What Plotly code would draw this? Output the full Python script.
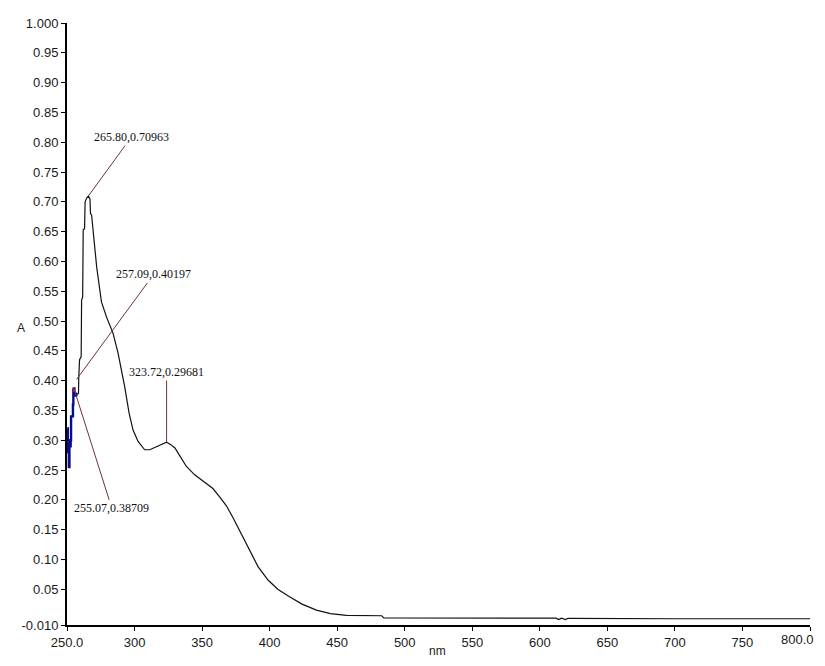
import plotly.graph_objects as go

# Blue (noisy) start of the spectrum
wl_start = [250.3, 250.6, 251.0, 251.4, 251.8, 252.2, 252.7, 253.0, 253.4, 254.0, 254.4, 254.7, 255.07, 255.5, 256.0, 256.5, 257.0]
abs_start = [0.32, 0.28, 0.30, 0.255, 0.29, 0.29, 0.30, 0.34, 0.34, 0.34, 0.36, 0.385, 0.387, 0.375, 0.378, 0.376, 0.378]

# Red marker piece at the 255.07 peak
wl_mark = [254.7, 255.07, 255.4]
abs_mark = [0.383, 0.387, 0.381]

# Main (black) spectrum
wl_main = [257.0, 258.5, 258.7, 259.3, 260.5, 260.8, 261.6, 262.0, 263.0, 263.4, 264.5, 265.8, 267.0, 267.4, 268.2,
           269.5, 272.0, 275.5, 279.2, 284.0, 287.8, 292.7, 296.0, 298.9, 302.6, 307.5, 311.2, 316.2, 320.0,
           323.72, 326.5, 329.9, 334.0, 338.4, 344.5, 351.0, 358.0, 363.0, 368.0, 372.9, 377.0, 381.5, 385.2,
           391.4, 398.8, 406.0, 414.7, 424.0, 434.6, 445.0, 456.8, 470.0, 483.0, 484.5, 540.0, 612.0, 614.0,
           616.0, 619.0, 621.0, 700.0, 800.0]
abs_main = [0.378, 0.378, 0.405, 0.435, 0.44, 0.535, 0.54, 0.653, 0.655, 0.70, 0.706, 0.70963, 0.705, 0.68, 0.678,
            0.648, 0.59, 0.532, 0.507, 0.48, 0.446, 0.39, 0.345, 0.317, 0.298, 0.284, 0.284, 0.289, 0.293,
            0.29681, 0.293, 0.287, 0.272, 0.256, 0.242, 0.231, 0.219, 0.205, 0.19, 0.17, 0.152, 0.133, 0.116,
            0.088, 0.0655, 0.05, 0.0375, 0.025, 0.015, 0.009, 0.006, 0.0055, 0.0055, 0.002, 0.002, 0.0015, -0.001,
            0.0015, -0.001, 0.0012, 0.0005, 0.0005]

# Peak labels: (wavelength, absorbance, text offset x px, text offset y px)
peak_wl = [265.80, 257.09, 323.72, 255.07]
peak_abs = [0.70963, 0.40197, 0.29681, 0.38709]
peak_ax = [43, 77, 0, 38]
peak_ay = [-59, -105, -70, 120]

x_ticks = [250, 300, 350, 400, 450, 500, 550, 600, 650, 700, 750, 800]
x_ticktext = ["250.0", "300", "350", "400", "450", "500", "550", "600", "650", "700", "750", ""]
x_last_label = "800.0"
y_ticks = [-0.01, 0.05, 0.10, 0.15, 0.20, 0.25, 0.30, 0.35, 0.40, 0.45, 0.50, 0.55, 0.60, 0.65, 0.70, 0.75, 0.80, 0.85, 0.90, 0.95, 1.0]
y_ticktext = ["-0.010", "0.05", "0.10", "0.15", "0.20", "0.25", "0.30", "0.35", "0.40", "0.45", "0.50", "0.55",
              "0.60", "0.65", "0.70", "0.75", "0.80", "0.85", "0.90", "0.95", "1.000"]

fig = go.Figure()
fig.add_trace(go.Scatter(x=wl_main, y=abs_main, mode="lines", line=dict(color="#111111", width=1.2), showlegend=False))
fig.add_trace(go.Scatter(x=wl_start, y=abs_start, mode="lines", line=dict(color="#0a0a8c", width=2.4, shape="hv"), showlegend=False))
fig.add_trace(go.Scatter(x=wl_mark, y=abs_mark, mode="lines", line=dict(color="#e01010", width=2), showlegend=False))

for w, a, ax, ay in zip(peak_wl, peak_abs, peak_ax, peak_ay):
    fig.add_annotation(x=w, y=a, text=f"{w:.2f},{a:.5f}", showarrow=True, arrowhead=0, arrowwidth=1,
                       arrowcolor="#6e3535", ax=ax, ay=ay, standoff=0, startstandoff=0,
                       font=dict(family="Liberation Serif", size=12, color="#111111"))

fig.add_annotation(xref="paper", yref="paper", x=-0.07, y=0.493, text="A", showarrow=False,
                   font=dict(family="Liberation Sans", size=12, color="#222222"))
fig.add_annotation(xref="paper", yref="paper", x=0.498, y=-0.028, yanchor="top", text="nm", showarrow=False,
                   font=dict(family="Liberation Sans", size=12, color="#222222"))
fig.add_annotation(xref="paper", yref="paper", x=1.008, y=-0.009, yanchor="top", xanchor="right",
                   text=x_last_label, showarrow=False,
                   font=dict(family="Liberation Sans", size=13, color="#1a1a1a"))

# The page body adds an 8px margin; the figure is sized so no scrollbars appear.
fig.update_layout(
    width=809, height=648,
    margin=dict(l=59, r=7, t=15, b=31),
    paper_bgcolor="white", plot_bgcolor="white",
    font=dict(family="Liberation Sans", size=13, color="#1a1a1a"),
)
fig.update_xaxes(range=[250, 800], tickvals=x_ticks, ticktext=x_ticktext, showgrid=False, zeroline=False,
                 showline=True, linecolor="black", linewidth=2, ticks="outside", ticklen=4, tickcolor="black",
                 automargin=False, ticklabeloverflow="allow",
                 tickfont=dict(family="Liberation Sans", size=13, color="#1a1a1a"))
fig.update_yaxes(range=[-0.01, 1.0], tickvals=y_ticks, ticktext=y_ticktext, showgrid=False, zeroline=False,
                 showline=True, linecolor="black", linewidth=2, ticks="outside", ticklen=4, tickcolor="black",
                 automargin=False, ticklabeloverflow="allow",
                 tickfont=dict(family="Liberation Sans", size=13, color="#1a1a1a"))

fig.write_html("out.html")
